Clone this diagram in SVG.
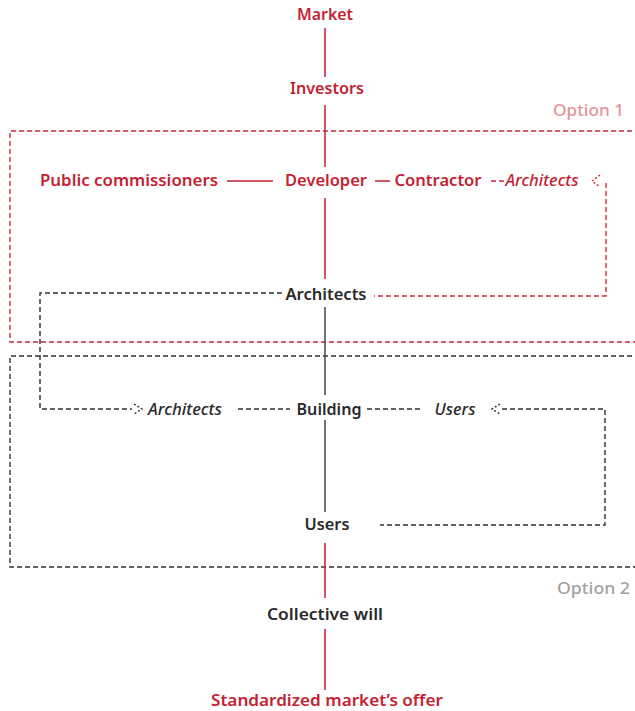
<svg xmlns="http://www.w3.org/2000/svg" width="635" height="711" viewBox="0 0 635 711">
<style>
text{font-family:"Noto Sans","Open Sans","Liberation Sans",sans-serif;font-size:16px;font-weight:600;text-anchor:middle}
.r{fill:#c41f33}
.k{fill:#2a2a2a}
.i{font-style:italic;font-weight:500}
.o1{fill:#e6939b;font-weight:500;text-anchor:end}
.o2{fill:#a2a2a2;font-weight:500;text-anchor:end}
.lr{stroke:#c41f33;stroke-width:1.5;fill:none}
.lk{stroke:#444;stroke-width:1.5;fill:none}
.dr{stroke:#d0283a;stroke-width:1.4;fill:none;stroke-dasharray:5 3}
.dk{stroke:#333;stroke-width:1.4;fill:none;stroke-dasharray:5 3}
.ar{stroke-dasharray:2 2}
</style>
<g id="boxes">
<path class="dr" d="M640 131 H10 V342 H640"/>
<path class="dk" d="M640 356 H10 V567 H640"/>
</g>
<g id="connectors">
<line class="lr" x1="325" y1="28" x2="325" y2="77"/>
<line class="lr" x1="325" y1="105" x2="325" y2="167"/>
<line class="lr" x1="227" y1="181" x2="273" y2="181"/>
<line class="lr" x1="375" y1="181" x2="390" y2="181"/>
<line class="dr" x1="491" y1="181" x2="505" y2="181"/>
<line class="lr" x1="325" y1="198" x2="325" y2="279"/>
<path class="dr" d="M606 183 V296 H374"/>
<polyline class="dr ar" points="600,175 592,181 600,187"/>
<path class="dk" d="M282 293 H40 V409 H132"/>
<polyline class="dk ar" points="134,404 142,409 134,414"/>
<line class="lk" x1="325" y1="307" x2="325" y2="395"/>
<line class="dk" x1="238" y1="409" x2="290" y2="409"/>
<line class="dk" x1="367" y1="409" x2="423" y2="409"/>
<polyline class="dk ar" points="500,404 492,409 500,414"/>
<path class="dk" d="M502 409 H605 V525 H380"/>
<line class="lk" x1="325" y1="420" x2="325" y2="512"/>
<line class="lr" x1="325" y1="543" x2="325" y2="598"/>
<line class="lr" x1="325" y1="629" x2="325" y2="690"/>
</g>
<g id="market"><text class="r" x="325" y="20" textLength="56" lengthAdjust="spacingAndGlyphs">Market</text></g>
<g id="investors"><text class="r" x="327" y="94" textLength="74" lengthAdjust="spacingAndGlyphs">Investors</text></g>
<g id="option1"><text class="o1" x="624" y="116" textLength="71" lengthAdjust="spacingAndGlyphs">Option 1</text></g>
<g id="public"><text class="r" x="129" y="186" textLength="178" lengthAdjust="spacingAndGlyphs">Public commissioners</text></g>
<g id="developer"><text class="r" x="326" y="186" textLength="82" lengthAdjust="spacingAndGlyphs">Developer</text></g>
<g id="contractor"><text class="r" x="438" y="186" textLength="87" lengthAdjust="spacingAndGlyphs">Contractor</text></g>
<g id="architects-red"><text class="r i" x="542" y="186" textLength="73" lengthAdjust="spacingAndGlyphs">Architects</text></g>
<g id="architects"><text class="k" x="326" y="300" textLength="81" lengthAdjust="spacingAndGlyphs">Architects</text></g>
<g id="architects-it"><text class="k i" x="185" y="415" textLength="74" lengthAdjust="spacingAndGlyphs">Architects</text></g>
<g id="building"><text class="k" x="329" y="415" textLength="65" lengthAdjust="spacingAndGlyphs">Building</text></g>
<g id="users-it"><text class="k i" x="455" y="415" textLength="41" lengthAdjust="spacingAndGlyphs">Users</text></g>
<g id="users"><text class="k" x="327" y="530" textLength="45" lengthAdjust="spacingAndGlyphs">Users</text></g>
<g id="option2"><text class="o2" x="630" y="594" textLength="73" lengthAdjust="spacingAndGlyphs">Option 2</text></g>
<g id="collective"><text class="k" x="325" y="620" textLength="116" lengthAdjust="spacingAndGlyphs">Collective will</text></g>
<g id="standardized"><text class="r" x="327" y="706" textLength="232" lengthAdjust="spacingAndGlyphs">Standardized market’s offer</text></g>
</svg>
